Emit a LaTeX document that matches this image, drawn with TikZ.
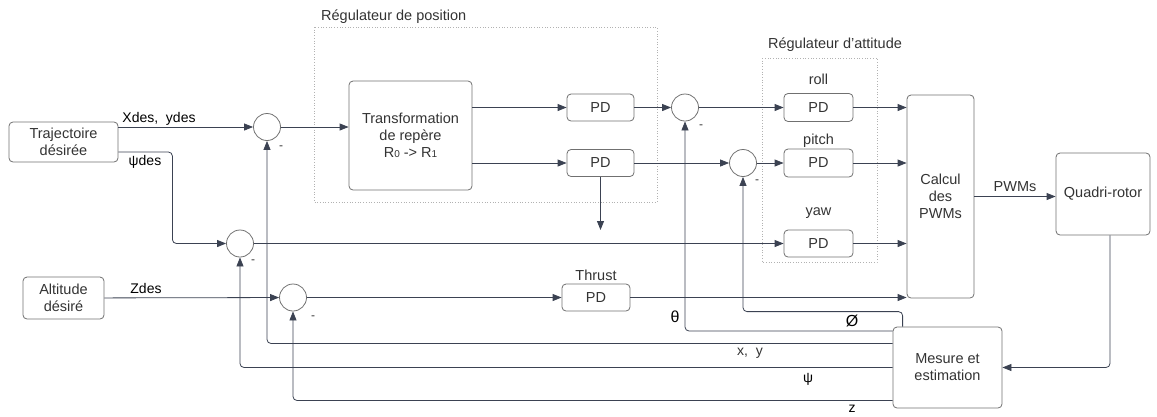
\documentclass[tikz,border=0pt]{standalone}
\usepackage{fontspec}
\setmainfont{Liberation Sans}
\usetikzlibrary{arrows.meta,calc}
\definecolor{ln}{HTML}{3B4252}
\definecolor{bx}{HTML}{707070}
\definecolor{tx}{HTML}{333333}
\tikzset{
  blk/.style={draw=bx,line width=0.8pt,rounded corners=4pt,align=center,inner sep=0pt,text=tx,font=\fontsize{14.5}{17}\selectfont},
  sumc/.style={draw=bx,line width=0.8pt,circle,minimum size=27pt,inner sep=0pt},
  arr/.style={draw=ln,line width=0.8pt,-{Triangle[length=9pt,width=7pt]}},
  lbl/.style={text=tx,inner sep=0pt,font=\fontsize{13.5}{16}\selectfont},
  dlbl/.style={text=black,inner sep=0pt,font=\fontsize{14}{16}\selectfont},
  minus/.style={text=tx,inner sep=0pt,font=\fontsize{12}{12}\selectfont},
  grp/.style={draw=gray!60,dotted,line width=0.7pt}
}
\begin{document}
\begin{tikzpicture}[x=1pt,y=-1pt]
\useasboundingbox (0,0) rectangle (1157,416);
% groups
\draw[grp] (314,27) rectangle (657,202);
\draw[grp] (762,58) rectangle (877,262);
\node[lbl,anchor=west,font=\fontsize{14.5}{17}\selectfont] (gpos) at (321,17) {Régulateur de position};
\node[lbl,font=\fontsize{14.5}{17}\selectfont] (gatt) at (835,45) {Régulateur d'attitude};
% blocks
\node[blk,minimum width=109pt,minimum height=40pt] (traj) at (63.5,142) {Trajectoire\\désirée};
\node[blk,minimum width=81pt,minimum height=42pt] (alt) at (63.5,298) {Altitude\\désiré};
\node[blk,minimum width=123pt,minimum height=109pt] (trans) at (410.5,135.5) {Transformation\\de repère\\R{\fontsize{10}{10}\selectfont 0} -> R{\fontsize{10}{10}\selectfont 1}};
\node[blk,minimum width=67pt,minimum height=27pt] (pd1) at (600.5,107.5) {PD};
\node[blk,minimum width=67pt,minimum height=27pt] (pd2) at (600.5,163) {PD};
\node[blk,minimum width=69pt,minimum height=28pt] (pdr) at (818.5,107.5) {PD};
\node[blk,minimum width=69pt,minimum height=28pt] (pdp) at (818.5,163) {PD};
\node[blk,minimum width=69pt,minimum height=27pt] (pdy) at (818.5,243.5) {PD};
\node[blk,minimum width=68pt,minimum height=27pt] (pdt) at (596,297.5) {PD};
\node[blk,minimum width=67pt,minimum height=203pt] (calc) at (940.5,196.5) {Calcul\\des\\PWMs};
\node[blk,minimum width=94pt,minimum height=82pt] (quad) at (1103,194) {Quadri-rotor};
\node[blk,minimum width=109pt,minimum height=81pt] (mes) at (947.5,367.5) {Mesure et\\estimation};
% summing junctions
\node[sumc] (s1) at (267,127) {};
\node[sumc] (s2) at (240,243.5) {};
\node[sumc] (s3) at (293,297.5) {};
\node[sumc] (sr) at (685,107.5) {};
\node[sumc] (sp) at (743,163) {};
% block labels
\node[lbl,font=\fontsize{14.5}{17}\selectfont] (lroll) at (818.5,79) {roll};
\node[lbl,font=\fontsize{14.5}{17}\selectfont] (lpitch) at (818.5,141) {pitch};
\node[lbl,font=\fontsize{14.5}{17}\selectfont] (lyaw) at (818.5,213) {yaw};
\node[lbl,font=\fontsize{14.5}{17}\selectfont] (lthr) at (596,275) {Thrust};
% forward connectors
\draw[arr] (traj.east |- s1) -- (s1);
\node[dlbl] (lxy) at (159,119) {Xdes,\ \ ydes};
\draw[arr,rounded corners=4pt] ([yshift=-10pt]traj.east) -- ++(54,0) |- (s2);
\node[dlbl] (lpsi) at (145,162) {ψdes};
\draw[arr] (alt) -- (s3);
\node[dlbl] (lz) at (146,288) {Zdes};
\draw[arr] (s1) -- (trans.west |- s1);
\draw[arr] (trans.east |- pd1) -- (pd1);
\draw[arr] (trans.east |- pd2) -- (pd2);
\draw[arr] (pd1) -- (sr);
\draw[arr] (pd2) -- (sp);
\coordinate (tdown) at (600.5,230);
\draw[arr] (pd2) -- (tdown);
\draw[arr] (sr) -- (pdr);
\draw[arr] (sp) -- (pdp);
\draw[arr] (s2) -- (pdy);
\draw[arr] (s3) -- (pdt);
\draw[arr] (pdr) -- (calc.west |- pdr);
\draw[arr] (pdp) -- (calc.west |- pdp);
\draw[arr] (pdy) -- (calc.west |- pdy);
\draw[arr] (pdt) -- (calc.west |- pdt);
\draw[arr] (calc) -- (quad.west |- calc);
\node[lbl,font=\fontsize{14.5}{17}\selectfont] (lpwm) at (1015,187) {PWMs};
\draw[arr,rounded corners=4pt] ([xshift=7pt]quad.south) |- (mes.east);
% feedback
\draw[arr,rounded corners=4pt] ([yshift=24pt]mes.west) -| (s1);
\draw[arr,rounded corners=4pt] (mes.west) -| (s2);
\draw[arr,rounded corners=4pt] ([yshift=-33pt]mes.west) -| (s3);
\draw[arr,rounded corners=4pt] ([yshift=36.5pt]mes.west) -| (sr);
\draw[arr,rounded corners=4pt] ([xshift=10pt]mes.north west) -- ++(0,-15) -| (sp);
% feedback labels
\node[lbl,font=\fontsize{14}{16}\selectfont] (lfxy) at (750,353) {x,\ \ y};
\node[dlbl] (lfpsi) at (808,379) {ψ};
\node[dlbl] (lfz) at (852,409) {z};
\node[dlbl,font=\fontsize{16}{18}\selectfont] (lth) at (675,317) {θ};
\node[dlbl,font=\fontsize{16}{18}\selectfont] (lph) at (852,321) {Ø};
% minus signs
\node[minus] (m1) at (281,148) {-};
\node[minus] (m2) at (253,262) {-};
\node[minus] (m3) at (313,318) {-};
\node[minus] (m4) at (701,127) {-};
\node[minus] (m5) at (757,182) {-};
\end{tikzpicture}
\end{document}
